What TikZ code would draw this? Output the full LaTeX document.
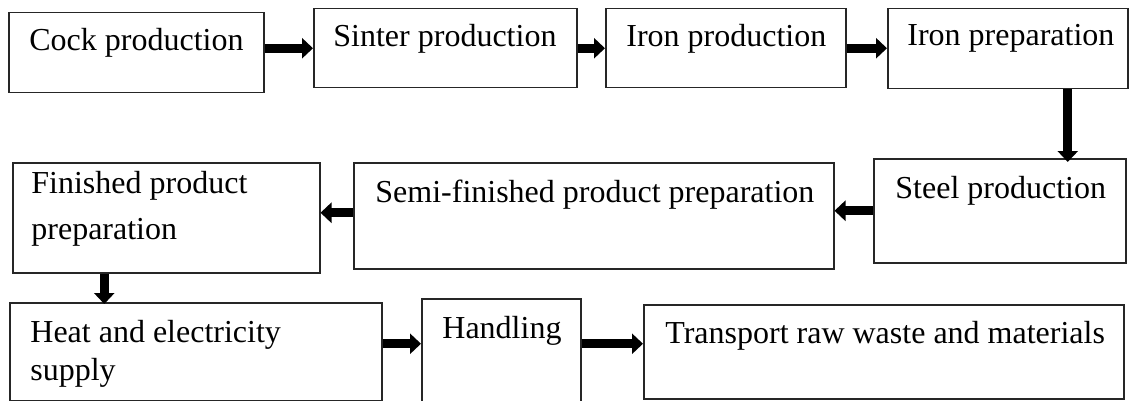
\documentclass[tikz,border=0pt]{standalone}
\usepackage{fontspec}
\setmainfont{Liberation Serif}
\usetikzlibrary{arrows.meta}
\tikzset{
  box/.style={draw=black!85, line width=0.75pt, inner sep=0pt, anchor=north west},
  txt/.style={inner sep=0pt, anchor=base west, font=\fontsize{16}{23}\selectfont},
  arr/.style={line width=4.6pt, -{Triangle[length=5.5pt,width=10pt]}}
}
\begin{document}
\begin{tikzpicture}[x=0.5pt,y=-0.5pt]
\useasboundingbox (0,0) rectangle (1129,401);
\clip (0,0) rectangle (1129,401);
% boxes
\node[box, minimum width=127.5pt, minimum height=40pt] (b1) at (8,12) {};
\node[box, minimum width=131.5pt, minimum height=39.5pt] (b2) at (313,8) {};
\node[box, minimum width=120pt, minimum height=39.5pt] (b3) at (605,8) {};
\node[box, minimum width=120pt, minimum height=40pt] (b4) at (887,8) {};
\node[box, minimum width=126pt, minimum height=52pt] (b5) at (873,158) {};
\node[box, minimum width=240pt, minimum height=53pt] (b6) at (353,162) {};
\node[box, minimum width=153.5pt, minimum height=55pt] (b7) at (12,162) {};
\node[box, minimum width=186pt, minimum height=49pt] (b8) at (9,302) {};
\node[box, minimum width=79.5pt, minimum height=56pt] (b9) at (421,298) {};
\node[box, minimum width=240pt, minimum height=47pt] (b10) at (643,304) {};
% texts
\node[txt] (t1) at (29,51) {Cock production};
\node[txt] (t2) at (333,47) {Sinter production};
\node[txt] (t3) at (626,47) {Iron production};
\node[txt] (t4) at (907,46) {Iron preparation};
\node[txt] (t5) at (895,198) {Steel production};
\node[txt] (t6) at (375,202) {Semi-finished product preparation};
\node[txt] (t7a) at (31,193) {Finished product};
\node[txt] (t7b) at (31,239) {preparation};
\node[txt] (t8a) at (30,342) {Heat and electricity};
\node[txt] (t8b) at (30,380) {supply};
\node[txt] (t9) at (442,338) {Handling};
\node[txt] (t10) at (665,343) {Transport raw waste and materials};
% arrows
\draw[arr] (b1.east |- b2.west) -- (b2.west);
\draw[arr] (b2.east) -- (b3.west);
\draw[arr] (b3.east) -- (b3.east -| b4.west);
\draw[arr] ([xshift=30pt]b4.south) -- ([xshift=30pt,yshift=-2pt]b4.south |- b5.north);
\draw[arr] (b5.west) -- (b5.west -| b6.east);
\draw[arr] ([yshift=1.5pt]b6.west) -- ([yshift=1.5pt]b6.west -| b7.east);
\draw[arr] ([xshift=-31pt]b7.south) -- ([xshift=-31pt,yshift=-1pt]b7.south |- b8.north);
\draw[arr] ([yshift=4pt]b8.east) -- ([yshift=4pt]b8.east -| b9.west);
\draw[arr] ([yshift=5.5pt]b9.east) -- ([yshift=5.5pt]b9.east -| b10.west);
\end{tikzpicture}
\end{document}
